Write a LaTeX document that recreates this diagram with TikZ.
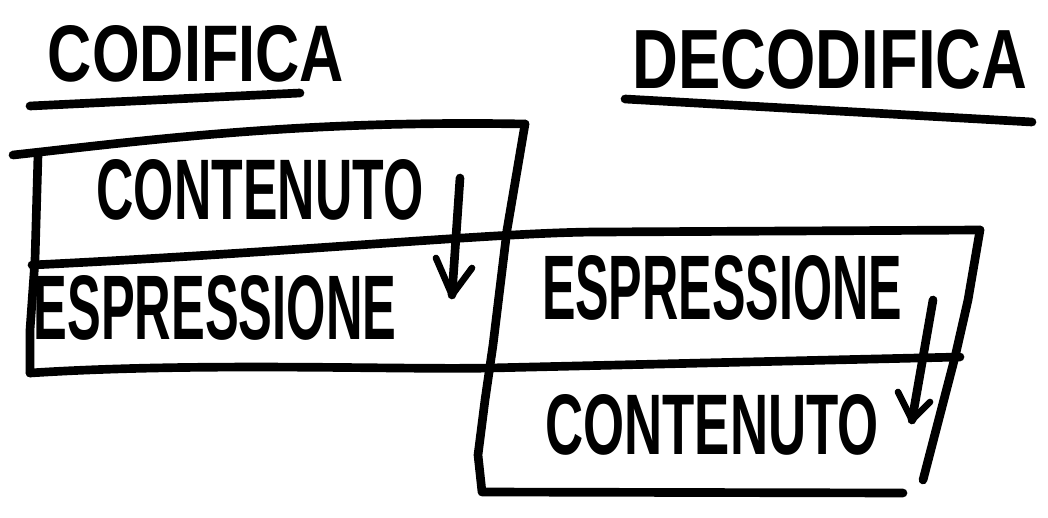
\documentclass[tikz,border=0pt]{standalone}
\usepackage{fontspec}
\setmainfont{Liberation Sans}
\usepackage{graphicx}
\newcommand{\handtext}[3]{\resizebox{#1}{#2}{\bfseries #3}}
\begin{document}
\begin{tikzpicture}[x=0.75pt,y=-0.75pt,
  pen/.style={line width=6.5pt,line cap=round,line join=round},
  lbl/.style={inner sep=0pt,anchor=center},
  tip/.style={line width=5pt,line cap=round,line join=round}]
\useasboundingbox (0,0) rectangle (1048,517);
% titles
\node[lbl] (tcod) at (196,54) {\handtext{222pt}{42pt}{CODIFICA}};
\node[lbl] (tdec) at (830,60) {\handtext{296pt}{44pt}{DECODIFICA}};
\coordinate (u1a) at (30,106); \coordinate (u1b) at (300,93);
\coordinate (u2a) at (625,99); \coordinate (u2b) at (1032,122);
\draw[pen] (u1a) -- (u1b);
\draw[pen] (u2a) -- (u2b);
% left box
\coordinate (T1) at (13,155); \coordinate (T2) at (525,124);
\coordinate (M1) at (32,265); \coordinate (M2) at (980,230);
\coordinate (B1) at (30,373); \coordinate (B2) at (960,357);
\coordinate (R1) at (482,492); \coordinate (R2) at (903,493);
\draw[pen] (T1) .. controls (150,140) and (300,120) .. (T2);
\draw[pen] (38,155) -- (35,260) -- (30,330) -- (B1);
\draw[pen] (M1) .. controls (300,252) and (500,232) .. (600,232) -- (M2);
\draw[pen] (B1) .. controls (200,362) and (400,370) .. (490,368) -- (B2);
\draw[pen] (T2) -- (507,230) -- (493,345) -- (485,400) -- (478,455) -- (R1) -- (R2);
% right box edge
\draw[pen] (M2) -- (968,300) -- (955,357) -- (923,480);
% texts
\node[lbl] (c1) at (260,190) {\handtext{245pt}{45pt}{CONTENUTO}};
\node[lbl] (e1) at (215,308) {\handtext{272pt}{48pt}{ESPRESSIONE}};
\node[lbl] (e2) at (722,288) {\handtext{270pt}{48pt}{ESPRESSIONE}};
\node[lbl] (c2) at (712,425) {\handtext{250pt}{45pt}{CONTENUTO}};
% arrows
\coordinate (a1s) at (460,178); \coordinate (a1e) at (452,295);
\draw[pen] (a1s) -- (a1e);
\draw[tip] (436,258) -- (a1e) -- (472,268);
\coordinate (a2s) at (933,300); \coordinate (a2e) at (912,420);
\draw[pen] (a2s) -- (a2e);
\draw[tip] (898,392) -- (a2e) -- (930,402);
\end{tikzpicture}
\end{document}
